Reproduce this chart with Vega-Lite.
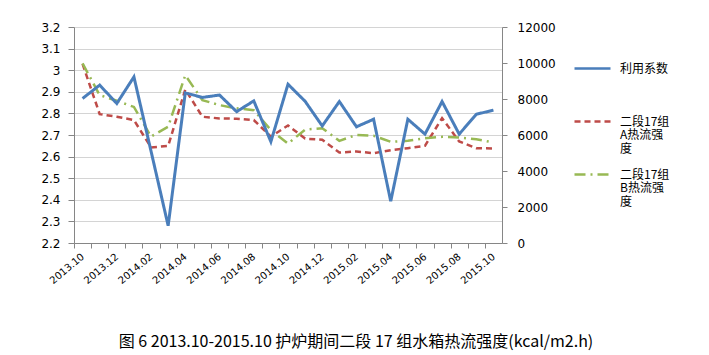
{
  "$schema": "https://vega.github.io/schema/vega-lite/v6.json",
  "autosize": {"type": "none"},
  "width": 428,
  "height": 216,
  "padding": {"left": 74, "top": 27, "right": 207, "bottom": 112},
  "background": "white",
  "config": {
    "view": {"stroke": null},
    "font": "DejaVu Sans",
    "style": {"guide-label": {"lineHeight": 13.5}}
  },
  "title": {
    "text": "图 6  2013.10-2015.10 护炉期间二段 17 组水箱热流强度(kcal/m2.h)",
    "orient": "bottom",
    "anchor": "middle",
    "dx": 68,
    "offset": 49,
    "font": "Noto Sans CJK SC",
    "fontSize": 16,
    "fontWeight": "normal",
    "color": "#000000"
  },
  "data": {
    "values": [
      {"month": "2013.10", "series": "利用系数", "value": 2.869},
      {"month": "2013.11", "series": "利用系数", "value": 2.931},
      {"month": "2013.12", "series": "利用系数", "value": 2.846},
      {"month": "2014.01", "series": "利用系数", "value": 2.969},
      {"month": "2014.02", "series": "利用系数", "value": 2.625},
      {"month": "2014.03", "series": "利用系数", "value": 2.28},
      {"month": "2014.04", "series": "利用系数", "value": 2.895},
      {"month": "2014.05", "series": "利用系数", "value": 2.874},
      {"month": "2014.06", "series": "利用系数", "value": 2.885},
      {"month": "2014.07", "series": "利用系数", "value": 2.808},
      {"month": "2014.08", "series": "利用系数", "value": 2.858},
      {"month": "2014.09", "series": "利用系数", "value": 2.669},
      {"month": "2014.10", "series": "利用系数", "value": 2.935},
      {"month": "2014.11", "series": "利用系数", "value": 2.856},
      {"month": "2014.12", "series": "利用系数", "value": 2.742},
      {"month": "2015.01", "series": "利用系数", "value": 2.855},
      {"month": "2015.02", "series": "利用系数", "value": 2.738},
      {"month": "2015.03", "series": "利用系数", "value": 2.773},
      {"month": "2015.04", "series": "利用系数", "value": 2.393},
      {"month": "2015.05", "series": "利用系数", "value": 2.773},
      {"month": "2015.06", "series": "利用系数", "value": 2.704},
      {"month": "2015.07", "series": "利用系数", "value": 2.855},
      {"month": "2015.08", "series": "利用系数", "value": 2.704},
      {"month": "2015.09", "series": "利用系数", "value": 2.796},
      {"month": "2015.10", "series": "利用系数", "value": 2.815},
      {"month": "2013.10", "series": "二段17组A热流强度", "value": 9950},
      {"month": "2013.11", "series": "二段17组A热流强度", "value": 7160},
      {"month": "2013.12", "series": "二段17组A热流强度", "value": 7015},
      {"month": "2014.01", "series": "二段17组A热流强度", "value": 6830},
      {"month": "2014.02", "series": "二段17组A热流强度", "value": 5310},
      {"month": "2014.03", "series": "二段17组A热流强度", "value": 5390},
      {"month": "2014.04", "series": "二段17组A热流强度", "value": 8530},
      {"month": "2014.05", "series": "二段17组A热流强度", "value": 7015},
      {"month": "2014.06", "series": "二段17组A热流强度", "value": 6920},
      {"month": "2014.07", "series": "二段17组A热流强度", "value": 6905},
      {"month": "2014.08", "series": "二段17组A热流强度", "value": 6830},
      {"month": "2014.09", "series": "二段17组A热流强度", "value": 5910},
      {"month": "2014.10", "series": "二段17组A热流强度", "value": 6530},
      {"month": "2014.11", "series": "二段17组A热流强度", "value": 5800},
      {"month": "2014.12", "series": "二段17组A热流强度", "value": 5732},
      {"month": "2015.01", "series": "二段17组A热流强度", "value": 5029},
      {"month": "2015.02", "series": "二段17组A热流强度", "value": 5085},
      {"month": "2015.03", "series": "二段17组A热流强度", "value": 4992},
      {"month": "2015.04", "series": "二段17组A热流强度", "value": 5159},
      {"month": "2015.05", "series": "二段17组A热流强度", "value": 5270},
      {"month": "2015.06", "series": "二段17组A热流强度", "value": 5400},
      {"month": "2015.07", "series": "二段17组A热流强度", "value": 6934},
      {"month": "2015.08", "series": "二段17组A热流强度", "value": 5640},
      {"month": "2015.09", "series": "二段17组A热流强度", "value": 5270},
      {"month": "2015.10", "series": "二段17组A热流强度", "value": 5251},
      {"month": "2013.10", "series": "二段17组B热流强度", "value": 9980},
      {"month": "2013.11", "series": "二段17组B热流强度", "value": 8215},
      {"month": "2013.12", "series": "二段17组B热流强度", "value": 7900},
      {"month": "2014.01", "series": "二段17组B热流强度", "value": 7560},
      {"month": "2014.02", "series": "二段17组B热流强度", "value": 5910},
      {"month": "2014.03", "series": "二段17组B热流强度", "value": 6460},
      {"month": "2014.04", "series": "二段17组B热流强度", "value": 9320},
      {"month": "2014.05", "series": "二段17组B热流强度", "value": 7940},
      {"month": "2014.06", "series": "二段17组B热流强度", "value": 7660},
      {"month": "2014.07", "series": "二段17组B热流强度", "value": 7480},
      {"month": "2014.08", "series": "二段17组B热流强度", "value": 7380},
      {"month": "2014.09", "series": "二段17组B热流强度", "value": 6270},
      {"month": "2014.10", "series": "二段17组B热流强度", "value": 5520},
      {"month": "2014.11", "series": "二段17组B热流强度", "value": 6300},
      {"month": "2014.12", "series": "二段17组B热流强度", "value": 6379},
      {"month": "2015.01", "series": "二段17组B热流强度", "value": 5676},
      {"month": "2015.02", "series": "二段17组B热流强度", "value": 6009},
      {"month": "2015.03", "series": "二段17组B热流强度", "value": 5954},
      {"month": "2015.04", "series": "二段17组B热流强度", "value": 5621},
      {"month": "2015.05", "series": "二段17组B热流强度", "value": 5676},
      {"month": "2015.06", "series": "二段17组B热流强度", "value": 5824},
      {"month": "2015.07", "series": "二段17组B热流强度", "value": 5898},
      {"month": "2015.08", "series": "二段17组B热流强度", "value": 5861},
      {"month": "2015.09", "series": "二段17组B热流强度", "value": 5769},
      {"month": "2015.10", "series": "二段17组B热流强度", "value": 5584}
    ]
  },
  "encoding": {
    "x": {
      "field": "month",
      "type": "ordinal",
      "sort": null,
      "scale": {"type": "point", "padding": 0.5},
      "axis": {
        "title": null,
        "tickSize": 5,
        "tickOffset": -8.56,
        "labelOffset": 8.56,
        "tickColor": "#868686",
        "domainColor": "#868686",
        "labelAngle": -40,
        "labelAlign": "right",
        "labelBaseline": "middle",
        "labelPadding": 7,
        "labelFont": "DejaVu Sans",
        "labelFontSize": 10,
        "labelColor": "#000000",
        "labelExpr": "toNumber(slice(datum.value, 5)) % 2 == 0 ? datum.value : ''",
        "grid": false
      }
    }
  },
  "layer": [
    {
      "transform": [{"filter": "datum.series != '利用系数'"}],
      "mark": {"type": "line", "strokeWidth": 2.5},
      "encoding": {
        "y": {
          "field": "value",
          "type": "quantitative",
          "scale": {"domain": [0, 12000], "nice": false, "zero": false},
          "axis": {
            "orient": "right",
            "title": null,
            "values": [0, 2000, 4000, 6000, 8000, 10000, 12000],
            "format": "d",
            "grid": false,
            "tickSize": 5,
            "tickColor": "#868686",
            "domainColor": "#868686",
            "labelPadding": 10,
            "labelFont": "DejaVu Sans",
            "labelFontSize": 12,
            "labelColor": "#000000"
          }
        },
        "color": {
          "field": "series",
          "type": "nominal",
          "scale": {
            "domain": ["利用系数", "二段17组A热流强度", "二段17组B热流强度"],
            "range": ["#4A7EBB", "#BE4B48", "#98B954"]
          },
          "legend": {
            "orient": "none",
            "legendX": 499,
            "legendY": 22,
            "title": null,
            "symbolType": "stroke",
            "symbolSize": 1296,
            "symbolStrokeWidth": 2.5,
            "labelFont": "Noto Sans CJK SC",
            "labelFontSize": 12,
            "labelColor": "#000000",
            "labelLimit": 200,
            "labelOffset": 8,
            "rowPadding": 0,
            "labelExpr": "datum.value == '利用系数' ? ['利用系数', '', ''] : datum.value == '二段17组A热流强度' ? ['二段17组', 'A热流强', '度'] : ['二段17组', 'B热流强', '度']"
          }
        },
        "strokeDash": {
          "field": "series",
          "type": "nominal",
          "scale": {
            "domain": ["利用系数", "二段17组A热流强度", "二段17组B热流强度"],
            "range": [[1, 0], [6, 4], [11, 5, 2, 5]]
          }
        }
      }
    },
    {
      "transform": [{"filter": "datum.series == '利用系数'"}],
      "mark": {"type": "line", "strokeWidth": 3},
      "encoding": {
        "y": {
          "field": "value",
          "type": "quantitative",
          "scale": {"domain": [2.2, 3.2], "nice": false, "zero": false},
          "axis": {
            "orient": "left",
            "title": null,
            "values": [2.2, 2.3, 2.4, 2.5, 2.6, 2.7, 2.8, 2.9, 3.0, 3.1, 3.2],
            "format": "~g",
            "grid": true,
            "gridColor": "#D4D4D4",
            "gridWidth": 1,
            "tickSize": 6,
            "tickColor": "#868686",
            "domainColor": "#868686",
            "labelPadding": 8,
            "labelFont": "DejaVu Sans",
            "labelFontSize": 12,
            "labelColor": "#000000"
          }
        },
        "color": {"field": "series", "type": "nominal"},
        "strokeDash": {"field": "series", "type": "nominal"}
      }
    }
  ],
  "resolve": {"scale": {"y": "independent"}}
}
